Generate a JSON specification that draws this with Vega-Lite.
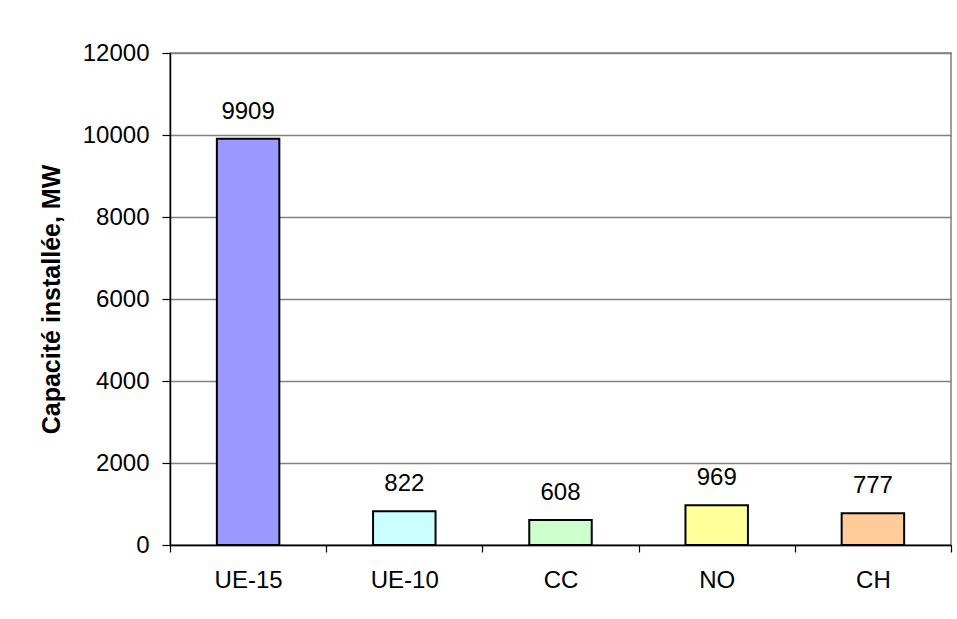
{
  "$schema": "https://vega.github.io/schema/vega-lite/v6.json",
  "width": 781,
  "height": 492,
  "autosize": {"type": "none"},
  "padding": {"left": 170, "top": 53, "right": 6, "bottom": 74},
  "background": "white",
  "config": {
    "font": "Liberation Sans",
    "view": {"stroke": "#808080", "strokeWidth": 1.5}
  },
  "data": {
    "values": [
      {"region": "UE-15", "value": 9909, "color": "#9999FF"},
      {"region": "UE-10", "value": 822, "color": "#CCFFFF"},
      {"region": "CC", "value": 608, "color": "#CCFFCC"},
      {"region": "NO", "value": 969, "color": "#FFFF99"},
      {"region": "CH", "value": 777, "color": "#FFCC99"}
    ]
  },
  "encoding": {
    "x": {
      "field": "region",
      "type": "nominal",
      "sort": null,
      "scale": {"paddingInner": 0, "paddingOuter": 0},
      "axis": {
        "title": null,
        "labelAngle": 0,
        "labelFontSize": 24,
        "labelColor": "black",
        "labelPadding": 16,
        "domainColor": "black",
        "domainWidth": 1.5,
        "tickColor": "black",
        "tickWidth": 1.2,
        "tickSize": 7,
        "tickBand": "extent",
        "grid": false
      }
    },
    "y": {
      "field": "value",
      "type": "quantitative",
      "scale": {"domain": [0, 12000], "nice": false},
      "axis": {
        "title": "Capacité installée, MW",
        "titleFontSize": 25,
        "titleFontWeight": "bold",
        "titleColor": "black",
        "titlePadding": 18,
        "values": [0, 2000, 4000, 6000, 8000, 10000, 12000],
        "format": "d",
        "labelFontSize": 24,
        "labelColor": "black",
        "labelPadding": 13,
        "domainColor": "black",
        "domainWidth": 1.5,
        "tickColor": "black",
        "tickWidth": 1.2,
        "tickSize": 8,
        "gridColor": "#808080",
        "gridWidth": 1.5,
        "gridOpacity": 1
      }
    }
  },
  "layer": [
    {
      "mark": {"type": "bar", "width": {"band": 0.4}, "stroke": "black", "strokeWidth": 2},
      "encoding": {
        "color": {"field": "color", "type": "nominal", "scale": null}
      }
    },
    {
      "mark": {"type": "text", "baseline": "alphabetic", "dy": -20, "fontSize": 24, "color": "black"},
      "encoding": {
        "text": {"field": "value", "type": "quantitative", "format": "d"}
      }
    }
  ]
}
